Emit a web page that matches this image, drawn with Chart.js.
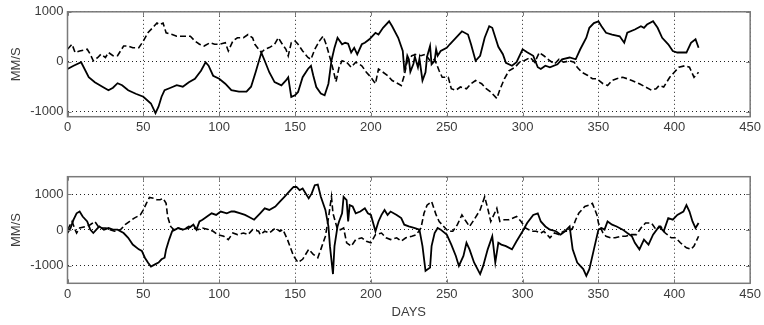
<!DOCTYPE html>
<html>
<head>
<meta charset="utf-8">
<script src="https://cdn.jsdelivr.net/npm/chart.js@4/dist/chart.umd.min.js"></script>
<style>
  html, body { margin: 0; padding: 0; background: #fff; }
  body { width: 764px; height: 325px; position: relative; overflow: hidden; }
  #topWrap { position: absolute; left: 0; top: 0; width: 764px; height: 140px; }
  #botWrap { position: absolute; left: 0; top: 150px; width: 764px; height: 175px; }
</style>
</head>
<body>
<div id="topWrap"><canvas id="topChart" width="764" height="140"></canvas></div>
<div id="botWrap"><canvas id="botChart" width="764" height="175"></canvas></div>
<script>
// [day, mm/s] pairs
const topSolid = [[0,-145],[4,-80],[9,-10],[14,-310],[18,-410],[23,-500],[27,-570],[30,-520],[33,-430],[36,-470],[40,-570],[45,-640],[50,-700],[55,-835],[58,-1030],[60,-900],[62,-700],[64,-570],[68,-520],[72,-470],[76,-500],[80,-410],[84,-340],[88,-180],[91,-10],[93,-80],[96,-280],[100,-340],[104,-440],[108,-570],[113,-600],[118,-600],[121,-500],[124,-210],[127.8,183],[130,20],[133,-210],[136.5,-408],[141,-473],[144,-375],[145.5,-310],[147.5,-704],[150,-670],[152,-605],[155,-310],[158.5,-145],[160.5,-80],[162,-276],[164,-507],[167,-637],[169.5,-670],[172,-440],[174,20],[176,283],[178,480],[181,350],[183,380],[185,360],[187,185],[189,280],[191,150],[194,350],[196,380],[199,450],[203,580],[205,545],[208,680],[212,810],[214,710],[218,480],[221,215],[222,-150],[223,-80],[224,120],[225,50],[226,-200],[228,-45],[229,100],[231,-110],[232,60],[234,-375],[236,-210],[237,100],[239,315],[240,-50],[242,20],[243,250],[244,120],[246,215],[250,280],[252,350],[256,480],[260,610],[264,545],[266,350],[269,20],[272,120],[275,480],[278,710],[280,680],[284,300],[287,150],[289,-20],[293,-80],[296,-10],[300,250],[303,190],[307,120],[310,-110],[312,-145],[315,-80],[318,-110],[323,-50],[326,50],[331,85],[335,50],[338,250],[342,480],[344,680],[347,775],[350,810],[352,710],[355,580],[359,545],[364,510],[367,380],[369,580],[374,645],[378,710],[380,680],[382,745],[386,810],[389,680],[392,480],[396,350],[399,215],[402,185],[408,185],[411,380],[414,450],[416,280]];
const topDashed = [[0,250],[3,350],[5,185],[8,215],[13,250],[15,150],[17,20],[20,85],[22,150],[25,85],[27,185],[30,120],[33,120],[37,315],[40,315],[43,280],[47,280],[50,415],[53,580],[57,710],[59,775],[61,745],[63,775],[65,580],[69,545],[72,510],[76,510],[81,510],[84,415],[87,350],[90,315],[94,380],[97,350],[100,350],[104,380],[106,215],[109,415],[112,480],[116,480],[119,545],[122,480],[123.5,349],[127.8,183],[130,250],[133,283],[136.5,349],[139,480],[141,380],[144,250],[145.5,118],[147.5,380],[150,414],[152,349],[155,217],[158.5,85],[160.5,50],[163,250],[166,414],[168.5,513],[170.5,349],[173,85],[175,-145],[177,-400],[179,-110],[181,20],[184,-10],[187,-110],[190,-10],[194,-80],[197,-210],[200,-310],[203,-440],[205,-145],[208,-210],[211,-275],[214,-375],[218,-440],[220,-475],[222,-275],[224,20],[227,120],[230,150],[233,120],[236,150],[239,20],[242,50],[245,-180],[247,-310],[251,-310],[253,-540],[256,-570],[259,-505],[263,-540],[266,-440],[269,-375],[273,-440],[276,-540],[279,-605],[283,-735],[285,-560],[288,-340],[291,-180],[295,-110],[298,-10],[301,20],[305,85],[308,-10],[311,185],[314,120],[318,20],[321,-45],[324,50],[327,-10],[331,20],[334,-10],[336,-110],[339,-210],[343,-275],[346,-340],[349,-340],[353,-440],[356,-475],[359,-375],[362,-340],[366,-310],[369,-340],[372,-375],[377,-440],[381,-505],[385,-570],[388,-540],[390,-475],[393,-505],[397,-310],[400,-210],[403,-110],[407,-80],[410,-110],[413,-310],[416,-210]];
const botSolid = [[0,-85],[2,55],[4,290],[6,470],[8,520],[10,380],[13,240],[15,10],[17,-85],[19,10],[21,100],[24,10],[27,55],[30,10],[33,10],[37,-85],[40,-220],[43,-410],[47,-545],[49,-590],[51,-780],[53,-915],[55,-1030],[58,-960],[60,-915],[62,-825],[64,-780],[65,-545],[67,-270],[69,-35],[71,10],[73,55],[76,10],[80,55],[83,150],[85,10],[87,240],[89,290],[92,380],[95,470],[98,425],[101,520],[105,470],[108,520],[110,520],[114,470],[117,425],[120,360],[123,290],[127,470],[130,610],[133,565],[137,660],[140,800],[143,935],[147,1120],[149,1210],[151,1210],[153,1120],[155,1170],[159,890],[161,1030],[163,1260],[165,1280],[167,935],[170,565],[172,100],[173,-455],[175,-1240],[176,-455],[178,100],[179,240],[181,470],[182,935],[184,840],[185,240],[186,700],[188,660],[190,470],[193,520],[196,610],[198,470],[200,425],[203,-35],[205,240],[207,425],[209,565],[211,425],[213,520],[217,425],[220,335],[222,150],[225,100],[229,55],[232,10],[234,-455],[236,-1150],[239,-1055],[240,-455],[242,-85],[244,55],[246,10],[250,-130],[253,-410],[256,-730],[258,-1010],[261,-730],[263,-360],[265,-545],[268,-915],[272,-1240],[274,-1010],[277,-545],[280,-175],[282,-915],[284,-360],[286,-410],[289,-455],[293,-545],[296,-315],[300,-35],[303,195],[307,425],[310,470],[312,240],[315,100],[318,10],[322,-35],[325,-130],[328,-35],[331,100],[333,-545],[336,-915],[340,-1100],[342,-1290],[344,-1100],[347,-545],[350,10],[352,55],[354,10],[356,240],[359,150],[362,100],[366,10],[369,-85],[372,-175],[374,-360],[377,-545],[380,-270],[383,-410],[386,-130],[390,100],[393,-35],[396,335],[399,290],[402,425],[406,520],[408,700],[410,520],[412,240],[414,55],[416,195]];
const botDashed = [[0,10],[3,240],[5,10],[6,-85],[8,55],[12,100],[15,150],[18,240],[21,55],[25,55],[28,10],[31,-35],[35,10],[38,150],[41,240],[44,335],[48,425],[50,565],[52,750],[54,915],[57,890],[59,850],[61,850],[63,890],[65,750],[66,380],[68,100],[70,10],[73,55],[76,10],[80,100],[83,55],[86,10],[89,55],[93,10],[96,-35],[99,-130],[103,-175],[106,-270],[109,-85],[112,-130],[116,-85],[119,-130],[122,10],[126,-35],[127,-130],[130,-35],[133,-85],[137,55],[140,-35],[142,10],[145,-270],[149,-730],[152,-915],[155,-825],[159,-545],[162,-685],[165,-780],[167,-545],[170,-175],[172,335],[174,935],[175,470],[178,10],[180,10],[182,55],[184,-360],[187,-455],[190,-270],[194,-220],[197,-315],[200,-360],[203,-130],[207,-85],[210,-220],[213,-270],[217,-220],[220,-315],[223,-220],[227,-175],[230,-130],[233,55],[235,470],[237,700],[240,800],[243,425],[245,240],[248,100],[251,-35],[254,-35],[257,150],[260,425],[262,290],[265,100],[268,290],[272,565],[275,935],[277,610],[279,240],[283,610],[285,240],[288,290],[291,290],[296,380],[299,240],[302,55],[306,-35],[309,-35],[312,-85],[314,-35],[318,-220],[321,-85],[324,-130],[327,-35],[331,-35],[333,55],[335,290],[337,470],[341,660],[344,700],[346,750],[349,425],[350,195],[353,-85],[355,-175],[358,-220],[361,-220],[365,-175],[368,-175],[371,-130],[375,-130],[378,55],[381,195],[385,195],[388,10],[391,100],[394,-85],[398,-220],[401,-220],[404,-360],[408,-500],[411,-545],[413,-450],[416,-175]];

const xTicks = [0, 50, 100, 150, 200, 250, 300, 350, 400, 450];
const yTicks = [-1000, 0, 1000];

const textColor = '#3c3c3c';
const font = { family: 'Liberation Sans, Arial, sans-serif', size: 13 };

function toPts(arr) {
    return arr.map(p => ({ x: p[0], y: p[1] }));
}

// box around the axes + small inward tick marks, matlab style
const boxPlugin = {
    id: 'box',
    afterDraw(chart) {
        const a = chart.chartArea;
        const ctx = chart.ctx;
        const xs = chart.scales.x, ys = chart.scales.y;
        ctx.save();
        ctx.strokeStyle = '#7a7a7a';
        ctx.lineWidth = 1;
        ctx.beginPath();
        xTicks.forEach(t => {
            const px = Math.round(xs.getPixelForValue(t)) + 0.5;
            ctx.moveTo(px, a.bottom); ctx.lineTo(px, a.bottom - 4);
            ctx.moveTo(px, a.top); ctx.lineTo(px, a.top + 4);
        });
        yTicks.forEach(t => {
            const py = Math.round(ys.getPixelForValue(t)) + 0.5;
            ctx.moveTo(a.left, py); ctx.lineTo(a.left + 4, py);
            ctx.moveTo(a.right, py); ctx.lineTo(a.right - 4, py);
        });
        ctx.stroke();
        ctx.lineWidth = 1.5;
        ctx.strokeRect(a.left, a.top, a.right - a.left, a.bottom - a.top);
        ctx.restore();
    }
};

function makeChart(id, solid, dashed, yMin, yMax, padTop, xAxisH, showTitle) {
    const ctx = document.getElementById(id).getContext('2d');
    return new Chart(ctx, {
        type: 'line',
        data: {
            datasets: [{
                data: toPts(solid),
                borderColor: '#000',
                borderWidth: 1.8,
                pointRadius: 0,
                tension: 0
            }, {
                data: toPts(dashed),
                borderColor: '#000',
                borderWidth: 1.6,
                borderDash: [6, 3],
                pointRadius: 0,
                tension: 0
            }]
        },
        options: {
            responsive: false,
            animation: false,
            layout: { padding: { top: padTop, right: 13, left: 0, bottom: 0 } },
            plugins: { legend: { display: false }, tooltip: { enabled: false } },
            scales: {
                x: {
                    type: 'linear',
                    min: 0,
                    max: 450,
                    afterBuildTicks: s => { s.ticks = xTicks.map(v => ({ value: v })); },
                    afterFit: s => { s.height = xAxisH; },
                    ticks: { color: textColor, font: font, padding: 3, maxRotation: 0, callback: v => String(v) },
                    grid: { color: '#222', drawTicks: false, lineWidth: 1 },
                    border: { display: false, dash: [1, 3] },
                    title: {
                        display: showTitle,
                        text: 'DAYS',
                        color: textColor,
                        font: font,
                        padding: { top: 0, bottom: 5 }
                    }
                },
                y: {
                    min: yMin,
                    max: yMax,
                    afterBuildTicks: s => { s.ticks = yTicks.map(v => ({ value: v })); },
                    afterFit: s => { s.width = 67.5; },
                    ticks: { color: textColor, font: font, padding: 4, callback: v => String(v) },
                    grid: { color: '#222', drawTicks: false, lineWidth: 1 },
                    border: { display: false, dash: [1, 3] },
                    title: {
                        display: true,
                        text: 'MM/S',
                        color: textColor,
                        font: font,
                        padding: { top: 9, bottom: 0 }
                    }
                }
            }
        },
        plugins: [boxPlugin]
    });
}

window.onload = function() {
    makeChart('topChart', topSolid, topDashed, -1100, 1000, 10, 23.3, false);
    makeChart('botChart', botSolid, botDashed, -1500, 1500, 26.7, 41.7, true);
};
</script>
</body>
</html>
